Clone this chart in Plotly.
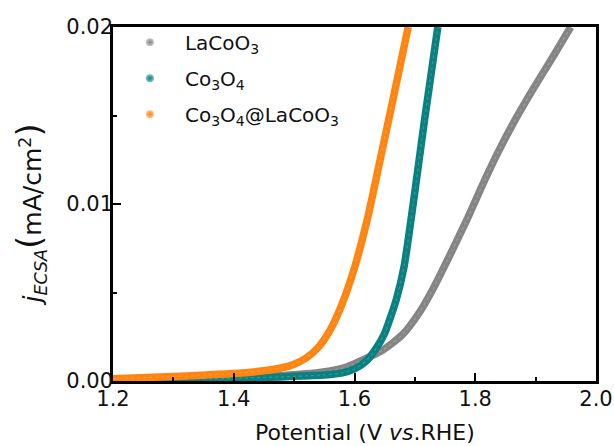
import plotly.graph_objects as go

# LSV polarisation curves normalised to ECSA
lacoo3_v = [1.20, 1.30, 1.40, 1.45, 1.50, 1.548, 1.587, 1.614, 1.647, 1.679, 1.708,
            1.730, 1.755, 1.786, 1.811, 1.836, 1.862, 1.896, 1.932, 1.958]
lacoo3_j = [0.00012, 0.00016, 0.00022, 0.00027, 0.00035, 0.00051, 0.00079, 0.00119,
            0.00175, 0.00260, 0.00390, 0.00520, 0.00690, 0.00910, 0.01100,
            0.01280, 0.01450, 0.01650, 0.01850, 0.02000]

co3o4_v = [1.20, 1.30, 1.40, 1.477, 1.526, 1.55, 1.58, 1.60, 1.62, 1.635, 1.65,
           1.669, 1.682, 1.698, 1.716, 1.738]
co3o4_j = [0.00008, 0.00010, 0.00015, 0.00023, 0.00030, 0.00034, 0.00046, 0.00068,
           0.00115, 0.00180, 0.00270, 0.00458, 0.00644, 0.01020, 0.01475, 0.02000]

hybrid_v = [1.20, 1.30, 1.344, 1.40, 1.45, 1.48, 1.50, 1.52, 1.54, 1.56, 1.58,
            1.60, 1.621, 1.64, 1.66, 1.689]
hybrid_j = [0.00013, 0.00025, 0.00032, 0.00042, 0.00058, 0.00075, 0.00095, 0.00130,
            0.00190, 0.00290, 0.00440, 0.00640, 0.00910, 0.01210, 0.01530, 0.02000]

names = ["LaCoO<sub>3</sub>", "Co<sub>3</sub>O<sub>4</sub>",
         "Co<sub>3</sub>O<sub>4</sub>@LaCoO<sub>3</sub>"]
colors = ["#858585", "#0A8080", "#FF8410"]
highlights = ["#C8C8C8", "#7FC4C4", "#FFC58A"]
series = [(lacoo3_v, lacoo3_j), (co3o4_v, co3o4_j), (hybrid_v, hybrid_j)]

FONT = "DejaVu Sans"
INK = "#111111"

fig = go.Figure()

for (v, j), c, h in zip(series, colors, highlights):
    fig.add_trace(go.Scatter(
        x=v, y=j, mode="lines", showlegend=False, hoverinfo="skip",
        line=dict(color=c, width=7.5, shape="spline", smoothing=0.6)))
    fig.add_trace(go.Scatter(
        x=v, y=j, mode="lines", showlegend=False, hoverinfo="skip",
        line=dict(color=h, width=1.2, shape="spline", smoothing=0.6, dash="dot"),
        opacity=0.35))

# legend entries drawn as shaded dots
for i, (n, c, h) in enumerate(zip(names, colors, highlights)):
    fig.add_trace(go.Scatter(
        x=[None], y=[None], mode="markers", name=n, legendgroup=f"g{i}",
        marker=dict(size=8, color=h, gradient=dict(type="radial", color=c))))

fig.update_layout(
    width=614, height=446,
    margin=dict(l=113, r=18, t=27, b=65, autoexpand=False),
    paper_bgcolor="white", plot_bgcolor="white",
    font=dict(family=FONT, color=INK),
    showlegend=True,
    legend=dict(x=0.004, y=1.012, xanchor="left", yanchor="top",
                bgcolor="rgba(0,0,0,0)", borderwidth=0,
                font=dict(family=FONT, size=20, color=INK),
                itemwidth=60, traceorder="grouped", tracegroupgap=7),
    annotations=[
        dict(text="Potential (V <i>vs</i>.RHE)", xref="paper", yref="paper",
             x=0.522, y=-0.146, xanchor="center", yanchor="middle",
             showarrow=False, font=dict(family=FONT, size=22, color=INK)),
        dict(text="<i>j</i><sub><i>ECSA</i></sub>"
                  "<span style='font-size:34px'>(</span>mA/cm<sup>2</sup>"
                  "<span style='font-size:34px'>)</span>",
             xref="paper", yref="paper", x=-0.172, y=0.47, textangle=-90,
             xanchor="center", yanchor="middle", showarrow=False,
             font=dict(family=FONT, size=25, color=INK)),
    ],
)

fig.update_xaxes(
    range=[1.2, 2.0], tickvals=[1.2, 1.4, 1.6, 1.8, 2.0],
    ticktext=["1.2", "1.4", "1.6", "1.8", "2.0"],
    automargin=False,
    showgrid=False, zeroline=False,
    showline=True, linecolor="black", linewidth=2.5, mirror=True,
    ticks="inside", ticklen=8, tickwidth=2, tickcolor="black",
    minor=dict(dtick=0.1, ticks="inside", ticklen=4, tickwidth=2, tickcolor="black"),
    tickfont=dict(family=FONT, size=21, color=INK),
    ticklabelstandoff=-3,
)

fig.update_yaxes(
    range=[0, 0.02], tickvals=[0, 0.01, 0.02],
    ticktext=["0.00", "0.01", "0.02"],
    automargin=False,
    showgrid=False, zeroline=False,
    showline=True, linecolor="black", linewidth=2.5, mirror=True,
    ticks="inside", ticklen=8, tickwidth=2, tickcolor="black",
    minor=dict(dtick=0.005, ticks="inside", ticklen=4, tickwidth=2, tickcolor="black"),
    tickfont=dict(family=FONT, size=21, color=INK),
    ticklabelstandoff=-7,
)

fig.write_html("out.html")
